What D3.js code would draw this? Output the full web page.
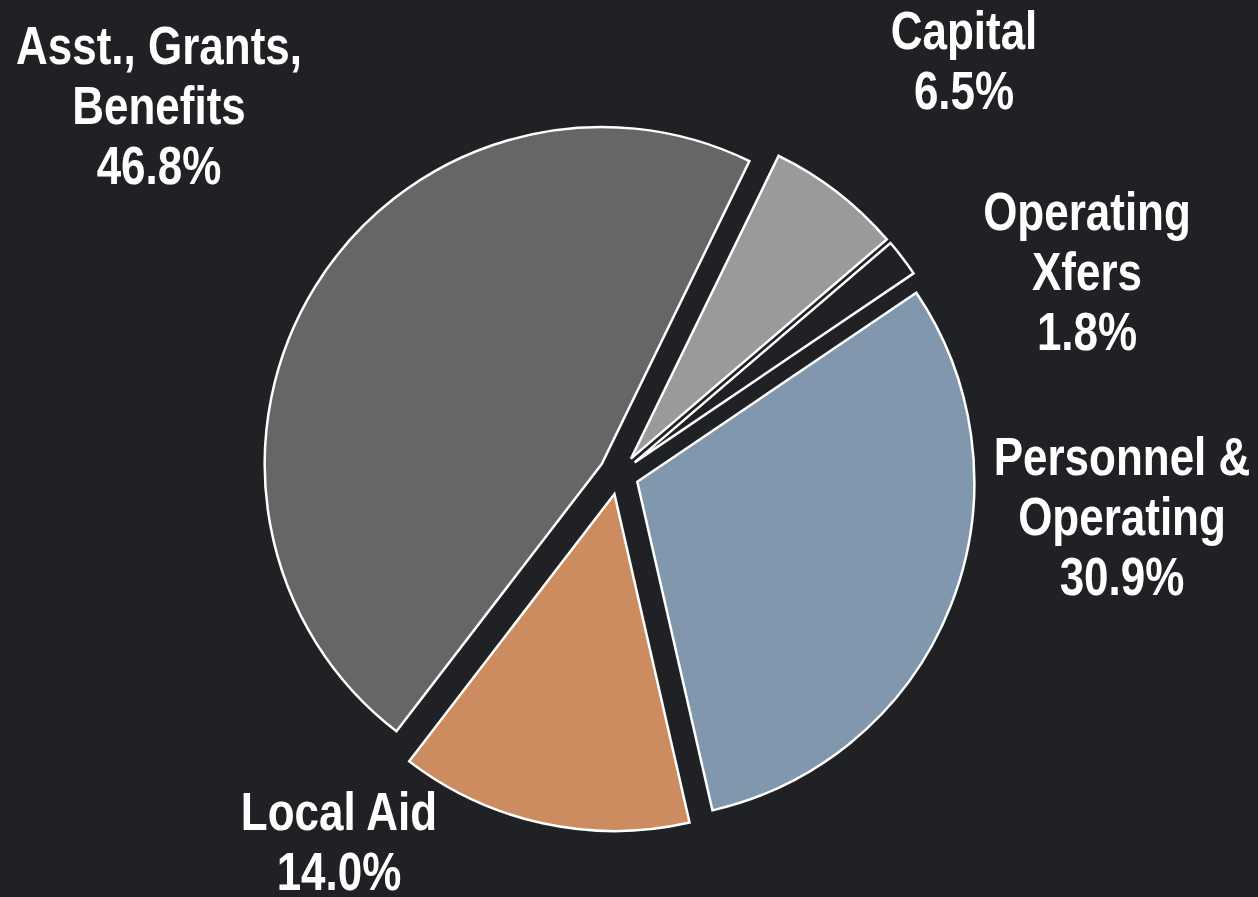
<!DOCTYPE html>
<html>
<head>
<meta charset="utf-8">
<script src="https://cdn.jsdelivr.net/npm/d3@7"></script>
<style>
  html, body { margin: 0; padding: 0; background: #202124; }
  svg { display: block; }
  .lbl { font-family: "Liberation Sans Narrow", "Arial Narrow", "Liberation Sans", sans-serif; font-weight: bold; fill: #ffffff; }
</style>
</head>
<body>
<svg id="chart" width="1258" height="897"></svg>
<script>
// Expenditure shares by category, clockwise from the Capital slice
const categories = ["Capital", "Operating Xfers", "Personnel & Operating", "Local Aid", "Asst., Grants, Benefits"];
const values = [6.5, 1.8, 30.9, 14.0, 46.8];
const labelLines = [["Capital"], ["Operating", "Xfers"], ["Personnel &", "Operating"], ["Local Aid"], ["Asst., Grants,", "Benefits"]];
const fills = ["#9a9a9a", "#202124", "#8197ae", "#cc8c5f", "#666666"];

// Layout
const W = 1258, H = 897;
const cx = 618.7, cy = 474.5;
const radius = 337;
const explode = 20;
const startDeg = 26;
const fontSize = 53, lineGap = 60;
// Condensed look for the bold sans face
const narrow = 0.83;
// Label anchors: centre x and baseline of the first line
const labelAnchors = [[964, 49], [1087, 230], [1122, 475], [339, 830], [159, 64]];

const svg = d3.select("#chart");
svg.append("rect").attr("width", W).attr("height", H).attr("fill", "#202124");

const pie = d3.pie()
  .sort(null)
  .value(d => d)
  .startAngle(startDeg * Math.PI / 180)
  .endAngle(startDeg * Math.PI / 180 + 2 * Math.PI);

const arc = d3.arc().innerRadius(0).outerRadius(radius);
const arcs = pie(values);

const g = svg.append("g").attr("transform", `translate(${cx},${cy})`);

g.selectAll("path.slice")
  .data(arcs)
  .join("path")
  .attr("class", "slice")
  .attr("d", arc)
  .attr("fill", (d, i) => fills[i])
  .attr("stroke", "#ffffff")
  .attr("stroke-width", 2.5)
  .attr("stroke-linejoin", "miter")
  .attr("transform", d => {
    const mid = (d.startAngle + d.endAngle) / 2;
    return `translate(${explode * Math.sin(mid)},${-explode * Math.cos(mid)})`;
  });

const fmt = d3.format(".1f");
const labels = svg.selectAll("text.lbl")
  .data(arcs)
  .join("text")
  .attr("class", "lbl")
  .attr("text-anchor", "middle")
  .attr("font-size", fontSize)
  .attr("transform", (d, i) => `translate(${labelAnchors[i][0]},${labelAnchors[i][1]}) scale(${narrow},1)`);

labels.each(function(d, i) {
  const t = d3.select(this);
  const lines = labelLines[i].concat([fmt(values[i]) + "%"]);
  lines.forEach((s, k) => {
    t.append("tspan").attr("x", 0).attr("y", k * lineGap).text(s);
  });
});
</script>
</body>
</html>
